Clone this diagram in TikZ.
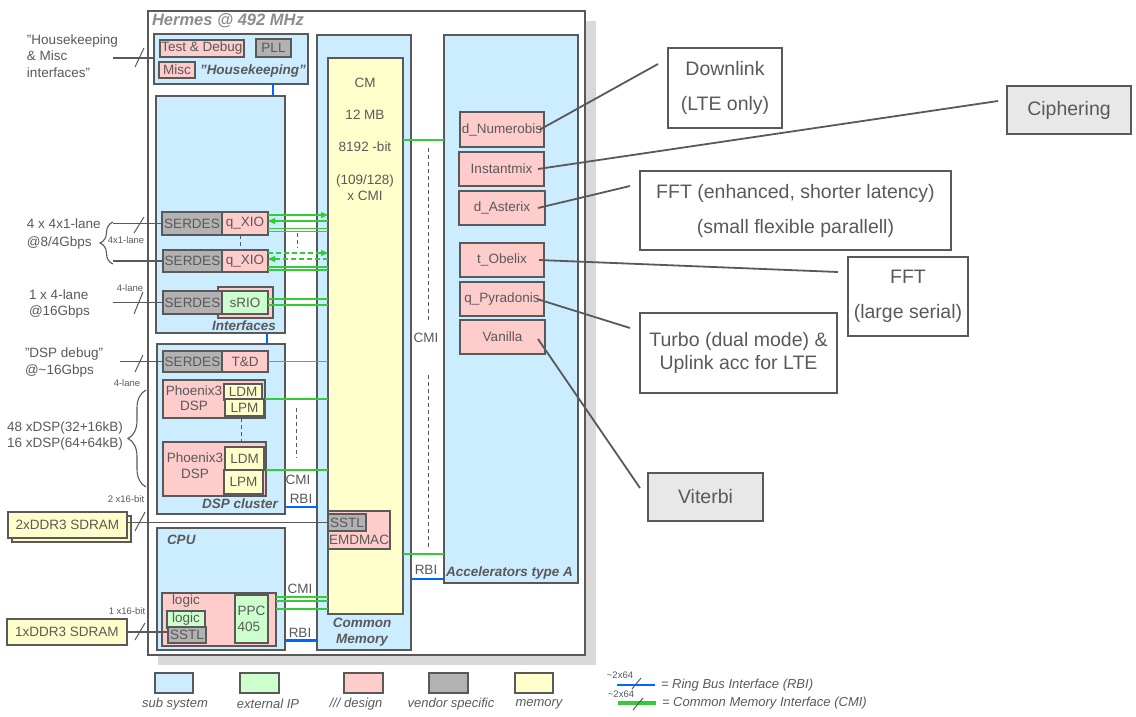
\documentclass[tikz,border=0pt]{standalone}
\usepackage{fontspec}
\setmainfont{Liberation Sans}
\usetikzlibrary{positioning, arrows.meta, decorations.pathreplacing}
\definecolor{edge}{HTML}{595959}
\definecolor{ink}{HTML}{595959}
\definecolor{subblue}{HTML}{CCECFF}
\definecolor{design}{HTML}{FFCCCC}
\definecolor{vendor}{HTML}{B2B2B2}
\definecolor{extip}{HTML}{CCFFCC}
\definecolor{memory}{HTML}{FFFFCC}
\definecolor{cmigreen}{HTML}{33CC33}
\definecolor{rbiblue}{HTML}{0066FF}
\definecolor{shadowgray}{HTML}{D9D9D9}
\definecolor{hermesgray}{HTML}{8C8C8C}
\definecolor{notegray}{HTML}{E8E8E8}
\tikzset{
	every node/.append style={
		font=\fontsize{13.5}{16}\selectfont,
		text=ink,
		inner sep=1pt,
		outer sep=0pt,
	},
	wh/.style 2 args={minimum width=#1, minimum height=#2},
	blk/.append style={
		draw=edge,
		line width=1.2pt,
		anchor=north west,
	},
	subsys/.append style={blk, fill=subblue},
	designbox/.append style={blk, fill=design},
	vendorbox/.append style={blk, fill=vendor},
	ipbox/.append style={blk, fill=extip},
	membox/.append style={blk, fill=memory},
	notebox/.append style={
		draw=edge,
		line width=1.8pt,
		anchor=north west,
		align=center,
		font=\fontsize{19.5}{23}\selectfont,
	},
	chiptitle/.append style={
		text=hermesgray,
		font=\fontsize{16.5}{19}\selectfont\bfseries\itshape,
	},
	sublabel/.append style={
		font=\fontsize{13.5}{16}\selectfont\bfseries\itshape,
	},
	extlab/.append style={
		anchor=west,
		align=left,
		font=\fontsize{13.5}{17}\selectfont,
	},
	smalltxt/.append style={
		font=\fontsize{9.5}{11}\selectfont,
	},
	keytext/.append style={
		font=\fontsize{13}{15}\selectfont\itshape,
	},
	bus/.append style={draw=edge, line width=1.2pt},
	busmark/.append style={draw=edge, line width=1pt},
	dashln/.append style={draw=edge, line width=0.9pt, dash pattern=on 4pt off 3pt},
	pointer/.append style={draw=edge, line width=1.8pt},
	cmiline/.append style={draw=cmigreen, line width=1.1pt},
	cmiarrow/.append style={cmiline, -{Triangle[length=7pt, width=6pt]}},
	rbiline/.append style={draw=rbiblue, line width=2.5pt},
	lanebrace/.append style={draw=edge, line width=1.1pt, decorate, decoration={brace, amplitude=13pt}},
	dspbrace/.append style={draw=edge, line width=1.1pt, decorate, decoration={brace, amplitude=18pt}},
}

\begin{document}
\begin{tikzpicture}[x=1pt, y=-1pt]
\useasboundingbox (0,0) rectangle (1136,717);

% chip outline
\fill[shadowgray] (158,21) rectangle (596,665);
\node (hermes) [blk, fill=white, wh={437}{644}] at (148,11) {};
\node (hermeslab) [chiptitle, anchor=west] at (151,21) {Hermes @ 492 MHz};

% housekeeping
\node (hk) [subsys, wh={154}{50}] at (154,34) {};
\node (tdb) [designbox, wh={84}{17}] at (160,40) {Test \& Debug};
\node (pll) [vendorbox, wh={35}{18}] at (256,39) {PLL};
\node (misc) [designbox, wh={36}{16}] at (159,62) {Misc};
\node (hklab) [sublabel, anchor=west] at (199,71) {”Housekeeping”};

% interfaces
\node (ifc) [subsys, wh={129}{237}] at (156,96) {};
\node (serA) [vendorbox, wh={60}{23}] at (162,212) {SERDES};
\node (xioA) [designbox, wh={46}{23}, right=0pt of serA] {q\_XIO};
\node (serB) [vendorbox, wh={59}{22}] at (163,250) {SERDES};
\node (xioB) [designbox, wh={46}{22}, right=0pt of serB] {q\_XIO};
\node (srioback) [designbox, wh={55}{31}] at (218,287) {};
\node (serC) [vendorbox, wh={59}{23}] at (163,291) {SERDES};
\node (srio) [ipbox, wh={46}{23}, right=0pt of serC] {sRIO};
\node (ifclab) [sublabel, anchor=east] at (277,326) {Interfaces};

% common memory
\node (cmss) [subsys, wh={94}{615}] at (317,35) {};
\node (cm) [membox, wh={75}{556}] at (328,58) {};
\node (cmA) at (365,83) {CM};
\node (cmB) at (365,115) {12 MB};
\node (cmC) at (365,147) {8192 -bit};
\node (cmD) [align=center] at (365,188) {(109/128)\\x CMI};
\node (emd) [designbox, wh={62}{38}] at (328,511) {};
\node (sstlA) [vendorbox, wh={38}{17}] at (328,514) {SSTL};
\node (emdlab) at (359,540) {EMDMAC};
\node (cmlab) [sublabel, align=center] at (362,632) {Common\\Memory};

% accelerators
\node (acc) [subsys, wh={134}{548}] at (444,35) {};
\node (numer) [designbox, wh={84}{35}] at (460,112) {d\_Numerobis};
\node (instm) [designbox, wh={85}{34}] at (459,152) {Instantmix};
\node (aster) [designbox, wh={86}{34}] at (459,191) {d\_Asterix};
\node (obel) [designbox, wh={84}{34}] at (460,243) {t\_Obelix};
\node (pyra) [designbox, wh={84}{34}] at (460,282) {q\_Pyradonis};
\node (vani) [designbox, wh={85}{34}] at (460,320) {Vanilla};
\node (acclab) [sublabel, anchor=east] at (574,573) {Accelerators type A};

% dsp cluster
\node (dsp) [subsys, wh={128}{170}] at (157,344) {};
\node (serD) [vendorbox, wh={59}{21}] at (163,351) {SERDES};
\node (tdsp) [designbox, wh={46}{21}, right=0pt of serD] {T\&D};
\node (dspA) [designbox, wh={102}{38}] at (163,380) {};
\node (ldmA) [membox, wh={38}{16}] at (224,384) {LDM};
\node (lpmA) [membox, wh={39}{17}] at (225,399) {LPM};
\node (dspAlab) [align=center, font=\fontsize{13.5}{15}\selectfont] at (194,398) {Phoenix3\\DSP};
\node (dspB) [designbox, wh={103}{54}] at (163,442) {};
\node (ldmB) [membox, wh={39}{23}] at (225,447) {LDM};
\node (lpmB) [membox, wh={39}{24}] at (224,470) {LPM};
\node (dspBlab) [align=center] at (195,466) {Phoenix3\\DSP};
\node (dsplab) [sublabel, anchor=east] at (279,504) {DSP cluster};

% cpu
\node (cpu) [subsys, wh={128}{122}] at (157,528) {};
\node (cpulab) [sublabel, anchor=west] at (166,540) {CPU};
\node (cpulogic) [designbox, wh={114}{53}] at (162,593) {};
\node (logiclab) [anchor=west] at (171,601) {logic};
\node (logicip) [ipbox, wh={38}{17}] at (167,611) {logic};
\node (sstlB) [vendorbox, wh={38}{16}] at (168,627) {SSTL};
\node (ppc) [ipbox, wh={33}{48}, align=left] at (235,595) {PPC\\405};

% external interfaces
\node (hkext) [extlab, font=\fontsize{13.5}{16.5}\selectfont] at (26,56) {”Housekeeping\\\& Misc\\interfaces”};
\coordinate (hkin) at (113,58);
\draw[bus] (hkin) -- (hkin -| hk.west);
\draw[busmark] (135,67) -- (144,48);

\node (xauiext) [extlab, font=\fontsize{13.5}{18}\selectfont] at (26,234) {4 x 4x1-lane\\@8/4Gbps};
\draw[lanebrace] (113,264) -- (113,222);
\coordinate (laneA) at (113,223.5);
\coordinate (laneB) at (113,261);
\draw[bus] (laneA) -- (serA.west);
\draw[bus] (laneB) -- (serB.west);
\draw[busmark] (134,233) -- (144,217);
\node (lane4x1) [smalltxt] at (126,240) {4x1-lane};

\node (srioext) [extlab, font=\fontsize{13.5}{16}\selectfont] at (28,304) {1 x 4-lane\\@16Gbps};
\coordinate (srioin) at (113,302.5);
\draw[bus] (srioin) -- (serC.west);
\draw[busmark] (134,314) -- (143,292);
\node (lane4a) [smalltxt] at (130,288) {4-lane};

\node (dbgext) [extlab] at (24,363) {”DSP debug”\\@\textasciitilde16Gbps};
\coordinate (dbgin) at (120,361.5);
\draw[bus] (dbgin) -- (serD.west);
\draw[busmark] (135,372) -- (143,355);
\node (lane4b) [smalltxt] at (127,383) {4-lane};

\node (dspext) [extlab, anchor=east, font=\fontsize{13.5}{16}\selectfont] at (124,436) {48 xDSP(32+16kB)\\16 xDSP(64+64kB)};
\draw[dspbrace] (146,487) -- (146,390);

\node (bits2) [smalltxt] at (126,499) {2 x16-bit};
\node (ddr2back) [membox, wh={119}{26}] at (12,516) {};
\node (ddr2) [membox, wh={119}{26}] at (8,512) {2xDDR3 SDRAM};
\draw[bus] (ddr2.east |- sstlA.west) -- (sstlA.west);
\draw[busmark] (135,531) -- (145,512);

\node (bits1) [smalltxt] at (127,611) {1 x16-bit};
\node (ddr1) [membox, wh={120}{26}] at (7,619) {1xDDR3 SDRAM};
\draw[bus] (ddr1.east) -- (ddr1.east -| sstlB.west);
\draw[busmark] (135,640) -- (145,623);

% ring bus
\draw[rbiline] (hk.south -| 273,0) -- (ifc.north -| 273,0);
\draw[rbiline] (ifc.south -| 267,0) -- (dsp.north -| 267,0);
\draw[rbiline] (dsp.east |- 0,507) -- (cmss.west |- 0,507);
\draw[rbiline] (cpu.east |- 0,640.5) -- (cmss.west |- 0,640.5);
\draw[rbiline] (cmss.east |- 0,579) -- (acc.west |- 0,579);

% common memory interfaces
\draw[cmiarrow] (xioA.east |- 0,215) -- (cm.west |- 0,215);
\draw[cmiarrow] (cm.west |- 0,221) -- (xioA.east |- 0,221);
\draw[cmiline] (xioA.east |- 0,228.5) -- (cm.west |- 0,228.5);
\draw[cmiline] (xioA.east |- 0,231.5) -- (cm.west |- 0,231.5);
\draw[cmiarrow, dash pattern=on 5pt off 3pt] (xioB.east |- 0,253) -- (cm.west |- 0,253);
\draw[cmiarrow, dash pattern=on 5pt off 3pt] (cm.west |- 0,259) -- (xioB.east |- 0,259);
\draw[cmiline] (xioB.east |- 0,267) -- (cm.west |- 0,267);
\draw[cmiline] (xioB.east |- 0,270) -- (cm.west |- 0,270);
\draw[cmiline] (srio.east |- 0,299) -- (cm.west |- 0,299);
\draw[cmiline] (srio.east |- 0,305) -- (cm.west |- 0,305);
\draw[dashln] (xioA.south -| 240,0) -- (xioB.north -| 240,0);
\draw[dashln] (297,233) -- (297,248);

\draw[cmiline] (tdsp.east) -- (tdsp.east -| cm.west);
\draw[cmiline] (dspA.east |- 0,399) -- (cm.west |- 0,399);
\draw[cmiline] (dspB.east |- 0,470) -- (cm.west |- 0,470);
\draw[dashln] (dspA.south -| 241,0) -- (dspB.north -| 241,0);
\draw[dashln] (296,408) -- (296,458);
\node (cmiD) at (298,480) {CMI};
\node (rbiD) at (301,499) {RBI};

\draw[cmiline] (cpulogic.east |- 0,597) -- (cm.west |- 0,597);
\draw[cmiline] (cpulogic.east |- 0,601) -- (cm.west |- 0,601);
\draw[cmiline] (cpulogic.east |- 0,609) -- (cm.west |- 0,609);
\node (cmiC) at (300,589) {CMI};
\node (rbiC) at (300,633) {RBI};

\draw[cmiline] (cm.east |- 0,140) -- (acc.west |- 0,140);
\draw[cmiline] (cm.east |- 0,554) -- (acc.west |- 0,554);
\node (cmiA) at (426,338) {CMI};
\node (rbiA) at (426,570) {RBI};
\draw[dashln] (428,148) -- (428,320);
\draw[dashln] (428,375) -- (428,547);

% accelerator notes
\node (dl) [notebox, wh={114}{80}] at (668,48) {Downlink\\[12pt](LTE only)};
\node (ciph) [notebox, fill=notegray, wh={124}{48}] at (1007,86) {Ciphering};
\node (ffte) [notebox, wh={311}{79}] at (640,171) {FFT (enhanced, shorter latency)\\[12pt](small flexible parallell)};
\node (fftl) [notebox, wh={120}{79}] at (848,257) {FFT\\[12pt](large serial)};
\node (turbo) [notebox, wh={197}{80}] at (640,313) {Turbo (dual mode) \&\\Uplink acc for LTE};
\node (vit) [notebox, fill=notegray, wh={115}{48}] at (648,473) {Viterbi};

\draw[pointer] ([xshift=-4pt]numer.east) -- ([shift={(-10,16)}]dl.north west);
\draw[pointer] ([xshift=-6pt]instm.east) -- ([shift={(-9,15)}]ciph.north west);
\draw[pointer] ([xshift=-7pt]aster.east) -- ([shift={(-10,15)}]ffte.north west);
\draw[pointer] ([xshift=-5pt]obel.east) -- ([shift={(-10,15)}]fftl.north west);
\draw[pointer] ([xshift=-7pt]pyra.east) -- ([shift={(-10,15)}]turbo.north west);
\draw[pointer] ([xshift=-7pt, yshift=-2pt]vani.east) -- ([shift={(-8,15)}]vit.north west);

% legend
\node (keysub) [subsys, wh={38}{20}] at (155,673) {};
\node (keyip) [ipbox, wh={39}{20}] at (240,673) {};
\node (keydes) [designbox, wh={39}{20}] at (344,673) {};
\node (keyven) [vendorbox, wh={39}{20}] at (429,673) {};
\node (keymem) [membox, wh={38}{20}] at (515,673) {};
\node (keysubt) [keytext] at (175,704) {sub system};
\node (keyipt) [keytext] at (268,704) {external IP};
\node (keydest) [keytext] at (356,704) {/// design};
\node (keyvent) [keytext] at (451,704) {vendor specific};
\node (keymemt) [keytext] at (539,704) {memory};

\node (rbikey) [keytext, anchor=west] at (660,685) {= Ring Bus Interface (RBI)};
\node (cmikey) [keytext, anchor=west] at (661,703) {= Common Memory Interface (CMI)};
\coordinate (rbikeyin) at (617,685);
\coordinate (cmikeyin) at (618,703);
\draw[rbiline, line width=2pt] (rbikeyin) -- ([xshift=-5pt]rbikey.west);
\draw[cmiline, line width=3.5pt] (cmikeyin) -- ([xshift=-5pt]cmikey.west);
\draw[busmark] (632,689) -- (641,678);
\draw[busmark] (633,710) -- (643,698);
\node (rbiw) [smalltxt] at (620,675) {\textasciitilde2x64};
\node (cmiw) [smalltxt] at (621,694) {\textasciitilde2x64};
\end{tikzpicture}
\end{document}
